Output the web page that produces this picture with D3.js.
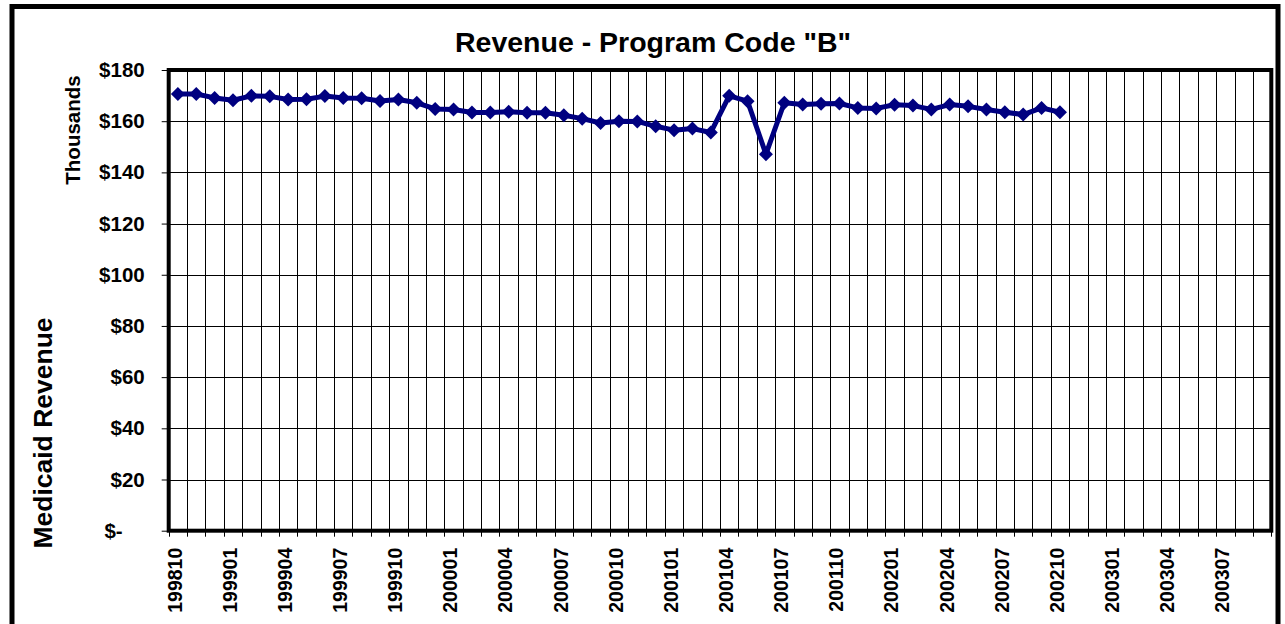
<!DOCTYPE html>
<html>
<head>
<meta charset="utf-8">
<script src="https://cdn.jsdelivr.net/npm/d3@7"></script>
<style>
  body { margin: 0; background: #fff; }
  text { font-family: Arial, "Liberation Sans", sans-serif; font-weight: bold; fill: #000; }
</style>
</head>
<body>
<div id="chart"></div>
<script>
// Months on the category axis (yyyymm)
var months = [
  "199810","199811","199812",
  "199901","199902","199903","199904","199905","199906","199907","199908","199909","199910","199911","199912",
  "200001","200002","200003","200004","200005","200006","200007","200008","200009","200010","200011","200012",
  "200101","200102","200103","200104","200105","200106","200107","200108","200109","200110","200111","200112",
  "200201","200202","200203","200204","200205","200206","200207","200208","200209","200210","200211","200212",
  "200301","200302","200303","200304","200305","200306","200307","200308","200309"
];

// Medicaid revenue, in thousands of dollars (199810 .. 200210)
var revenue = [
  170.6, 170.6, 169.1, 168.2, 169.9, 169.7, 168.5, 168.6, 169.8, 169.1,
  169.0, 167.9, 168.5, 167.2, 164.8, 164.6, 163.4, 163.4, 163.7, 163.3,
  163.3, 162.3, 161.0, 159.3, 160.0, 159.9, 158.0, 156.5, 157.1, 155.6,
  169.9, 167.8, 147.1, 167.2, 166.5, 166.8, 166.9, 165.2, 165.0, 166.4,
  166.1, 164.6, 166.5, 165.8, 164.6, 163.5, 162.6, 165.2, 163.5
];

var yTicks = [0, 20, 40, 60, 80, 100, 120, 140, 160, 180];
var xLabels = months.filter(function(m, i) { return i % 3 === 0; });

(function() {
  var width = 1285, height = 624;
  // plot area edges
  var pLeft = 168.7, pRight = 1271.3, pTop = 70, pBottom = 530.7;

  var svg = d3.select("#chart").append("svg")
      .attr("width", width)
      .attr("height", height);

  // outer chart border
  svg.append("rect")
      .attr("x", 12).attr("y", 6.5)
      .attr("width", 1266).attr("height", 620)
      .attr("fill", "none").attr("stroke", "#000").attr("stroke-width", 5);

  var x = d3.scaleBand().domain(months).range([pLeft, pRight]).padding(0);
  var y = d3.scaleLinear().domain([0, 180]).range([pBottom, pTop]);

  // vertical gridlines + tick marks at category boundaries
  var bounds = months.map(function(m) { return x(m); }).concat([pRight]);
  svg.append("g").selectAll("line").data(bounds).enter()
    .append("line")
      .attr("x1", function(d) { return Math.round(d) + 0.5; })
      .attr("x2", function(d) { return Math.round(d) + 0.5; })
      .attr("y1", pTop).attr("y2", pBottom + 6)
      .attr("stroke", "#000").attr("stroke-width", 1);

  // horizontal gridlines
  svg.append("g").selectAll("line").data(yTicks).enter()
    .append("line")
      .attr("x1", pLeft).attr("x2", pRight)
      .attr("y1", function(d) { return Math.round(y(d)) + 0.5; })
      .attr("y2", function(d) { return Math.round(y(d)) + 0.5; })
      .attr("stroke", "#000").attr("stroke-width", 1);

  // y axis
  var yAxis = svg.append("g")
      .attr("transform", "translate(" + pLeft + ",0)")
      .call(d3.axisLeft(y).tickValues(yTicks).tickSize(7).tickPadding(17)
        .tickFormat(function(d) { return d === 0 ? "$-" : "$" + d; }));
  yAxis.select(".domain").remove();
  yAxis.attr("font-family", null).attr("font-size", null);
  yAxis.selectAll("text")
      .attr("font-size", 20.5)
      .attr("dx", function(d) { return d === 0 ? -22 : 0; });

  // x axis (labels every 3rd month)
  var xAxis = svg.append("g")
      .attr("transform", "translate(0," + pBottom + ")")
      .call(d3.axisBottom(x).tickValues(xLabels).tickSize(0));
  xAxis.select(".domain").remove();
  xAxis.attr("font-family", null).attr("font-size", null);
  xAxis.selectAll("text")
      .attr("font-size", 19.5)
      .attr("transform", "rotate(-90)")
      .attr("text-anchor", "end")
      .attr("x", -17).attr("y", -3)
      .attr("dy", "0.35em");

  // plot frame
  svg.append("rect")
      .attr("x", pLeft).attr("y", pTop)
      .attr("width", pRight - pLeft).attr("height", pBottom - pTop)
      .attr("fill", "none").attr("stroke", "#000").attr("stroke-width", 4);

  // series line + diamond markers
  var pts = revenue.map(function(v, i) { return [x(months[i]) + x.bandwidth() / 2, y(v)]; });

  svg.append("path")
      .datum(pts)
      .attr("d", d3.line())
      .attr("fill", "none")
      .attr("stroke", "#000080")
      .attr("stroke-width", 5)
      .attr("stroke-linejoin", "round");

  svg.append("g").selectAll("path").data(pts).enter()
    .append("path")
      .attr("d", d3.symbol().type(d3.symbolDiamond2).size(125))
      .attr("transform", function(d) { return "translate(" + d[0] + "," + d[1] + ")"; })
      .attr("fill", "#000080");

  // titles
  svg.append("text")
      .attr("x", 653).attr("y", 52)
      .attr("text-anchor", "middle")
      .attr("font-size", 28.5)
      .text('Revenue - Program Code "B"');

  svg.append("text")
      .attr("transform", "translate(79.5,130) rotate(-90)")
      .attr("text-anchor", "middle")
      .attr("font-size", 20.5)
      .text("Thousands");

  svg.append("text")
      .attr("transform", "translate(51.5,433) rotate(-90)")
      .attr("text-anchor", "middle")
      .attr("font-size", 26.5)
      .text("Medicaid Revenue");
})();
</script>
</body>
</html>
